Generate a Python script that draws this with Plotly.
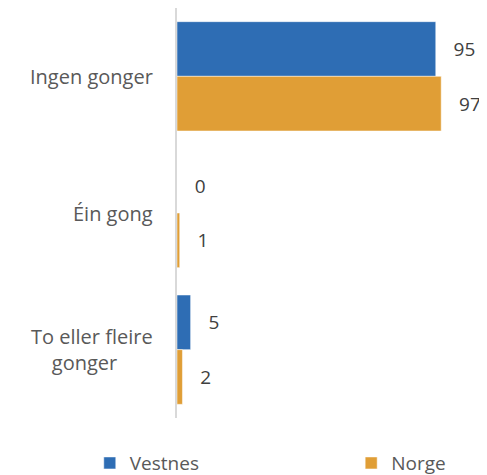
import plotly.graph_objects as go

kategoriar = ['Ingen gonger', 'Éin gong', 'To eller fleire<br>gonger']
vestnes = [95, 0, 5]
norge = [97, 1, 2]

fig = go.Figure()

fig.add_trace(go.Bar(y=kategoriar, x=vestnes, orientation='h', name='Vestnes',
                     marker=dict(color='#2e6db4'), legend='legend',
                     text=vestnes, texttemplate='\u00a0\u00a0\u00a0%{x}', textposition='outside',
                     textfont=dict(color='#404040', size=19), cliponaxis=False))
fig.add_trace(go.Bar(y=kategoriar, x=norge, orientation='h', name='Norge',
                     marker=dict(color='#e09e36'), legend='legend2',
                     text=norge, texttemplate='\u00a0\u00a0\u00a0%{x}', textposition='outside',
                     textfont=dict(color='#404040', size=19), cliponaxis=False))

# kategorietikettar som annotasjonar; andre linja skuva inn så ho står midt under
for k in kategoriar:
    fig.add_annotation(text=k.replace('<br>', '<br>\u00a0\u00a0\u00a0\u00a0'), xref='paper', x=0,
                       y=k, yref='y', xanchor='right', align='left', xshift=-22,
                       showarrow=False, font=dict(size=20, color='#595959'))

# sida har 8 px marg rundt figuren, difor 479x467
fig.update_layout(
    width=479, height=467,
    template='plotly_white',
    barmode='group', bargap=0.2, bargroupgap=0,
    font=dict(family='Open Sans', size=19, color='#595959'),
    margin=dict(l=169, r=24, t=0, b=57, autoexpand=False),
    showlegend=True,
    legend=dict(orientation='h', x=-0.305, xanchor='left', y=-0.11, yanchor='middle',
                font=dict(size=19, color='#595959'), itemwidth=30),
    legend2=dict(orientation='h', x=0.609, xanchor='left', y=-0.11, yanchor='middle',
                 font=dict(size=19, color='#595959'), itemwidth=30),
    uniformtext=dict(mode=False),
)
fig.update_xaxes(range=[0, 105], showgrid=False, showticklabels=False, zeroline=False)
fig.update_yaxes(autorange='reversed', showline=True, linecolor='#d9d9d9', linewidth=2,
                 showgrid=False, ticks='', showticklabels=False, automargin=False)

fig.write_html("out.html")
